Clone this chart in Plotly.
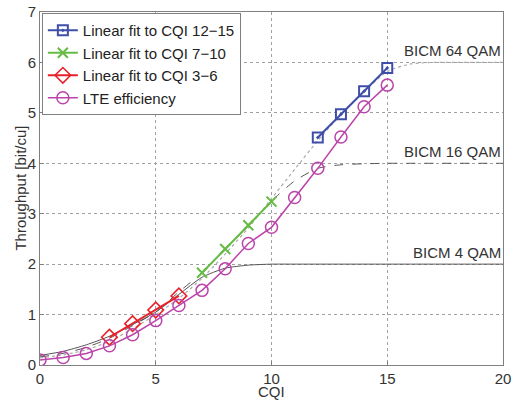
import plotly.graph_objects as go

cqi_all = list(range(0, 21))
bicm4 = [0.19, 0.27, 0.40, 0.57, 0.80, 1.05, 1.40, 1.74, 1.92, 1.98, 2.0,
         2.0, 2.0, 2.0, 2.0, 2.0, 2.0, 2.0, 2.0, 2.0, 2.0]
bicm16 = [0.16, 0.23, 0.35, 0.53, 0.78, 1.05, 1.45, 1.83, 2.29, 2.76, 3.25,
          3.65, 3.90, 3.97, 3.99, 4.0, 4.0, 4.0, 4.0, 4.0, 4.0]
bicm64 = [0.14, 0.20, 0.30, 0.47, 0.72, 1.00, 1.32, 1.72, 2.20, 2.72, 3.30,
          3.88, 4.45, 4.97, 5.42, 5.82, 5.97, 6.0, 6.0, 6.0, 6.0]

cqi_lte = list(range(0, 16))
lte_eff = [0.10, 0.15, 0.23, 0.38, 0.60, 0.88, 1.18, 1.48, 1.91, 2.41, 2.73,
           3.32, 3.90, 4.52, 5.12, 5.55]

cqi_fit1 = [3, 4, 5, 6]
fit1 = [0.55, 0.82, 1.09, 1.37]
cqi_fit2 = [7, 8, 9, 10]
fit2 = [1.83, 2.30, 2.77, 3.24]
cqi_fit3 = [12, 13, 14, 15]
fit3 = [4.51, 4.97, 5.43, 5.89]

labels = ["BICM 64 QAM", "BICM 16 QAM", "BICM 4 QAM"]
label_levels = [6, 4, 2]

FONT = "Liberation Sans, Arial, sans-serif"
TXT = "#333333"
fig = go.Figure()

fig.add_trace(go.Scatter(x=cqi_all, y=bicm4, mode="lines", showlegend=False,
                         line=dict(color="#555555", width=1, shape="spline", smoothing=0.6)))
fig.add_trace(go.Scatter(x=cqi_all, y=bicm16, mode="lines", showlegend=False,
                         line=dict(color="#555555", width=1, dash="dash", shape="spline", smoothing=0.6)))
fig.add_trace(go.Scatter(x=cqi_all, y=bicm64, mode="lines", showlegend=False,
                         line=dict(color="#aaaaaa", width=1.2, dash="dot", shape="spline", smoothing=0.6)))

fig.add_trace(go.Scatter(x=cqi_fit3, y=fit3, mode="lines+markers", name="Linear fit to CQI 12\u221215",
                         line=dict(color="#3f4fa8", width=2),
                         marker=dict(symbol="square-open-dot", size=10, color="#3f4fa8", line=dict(width=2))))
fig.add_trace(go.Scatter(x=cqi_fit2, y=fit2, mode="lines+markers", name="Linear fit to CQI 7\u221210",
                         line=dict(color="#66bb44", width=2),
                         marker=dict(symbol="x-thin", size=10, color="#66bb44", line=dict(width=2, color="#66bb44"))))
fig.add_trace(go.Scatter(x=cqi_fit1, y=fit1, mode="lines+markers", name="Linear fit to CQI 3\u22126",
                         line=dict(color="#e8202a", width=2),
                         marker=dict(symbol="diamond-open", size=12, color="#e8202a", line=dict(width=1.6))))
fig.add_trace(go.Scatter(x=cqi_lte, y=lte_eff, mode="lines+markers", name="LTE efficiency",
                         line=dict(color="#bb44aa", width=1.5),
                         marker=dict(symbol="circle-open", size=12, color="#bb44aa", line=dict(width=1.5))))

for t, lv in zip(labels, label_levels):
    fig.add_annotation(x=20, y=lv, xref="x", yref="y", text=t, showarrow=False,
                       xanchor="right", yanchor="bottom", yshift=1,
                       font=dict(family=FONT, size=15, color=TXT))

# axis titles placed as annotations (pixel-tuned positions)
fig.add_annotation(x=0.5, xref="paper", y=0, yref="paper", yshift=-17, text="CQI", showarrow=False,
                   xanchor="center", yanchor="top", borderpad=0,
                   font=dict(family=FONT, size=15, color=TXT))
fig.add_annotation(x=-0.043, xref="paper", y=0.5, yref="paper", text="Throughput [bit/cu]",
                   showarrow=False, textangle=-90, xanchor="center", yanchor="middle",
                   font=dict(family=FONT, size=15, color=TXT))

axis_common = dict(showline=True, linecolor="#808080", linewidth=1, mirror=True,
                   showgrid=True, gridcolor="#a0a0a0", griddash="dot", gridwidth=1,
                   zeroline=False, ticks="inside", ticklen=4, tickcolor="#808080",
                   automargin=False,
                   tickfont=dict(family=FONT, size=15, color=TXT))

fig.update_xaxes(range=[0, 20], tickvals=[0, 5, 10, 15, 20], **axis_common)
fig.update_yaxes(range=[0, 7], tickvals=list(range(0, 8)), **axis_common)

fig.update_layout(width=521, height=400, margin=dict(l=40, r=18, t=12, b=35),
                  plot_bgcolor="white", paper_bgcolor="white",
                  font=dict(family=FONT, size=15, color=TXT),
                  legend=dict(x=0.004, y=0.997, xanchor="left", yanchor="top",
                              bgcolor="white", bordercolor="#808080", borderwidth=1,
                              font=dict(family=FONT, size=15, color="#222222"),
                              tracegroupgap=0, itemwidth=30))

fig.write_html("out.html", post_script="document.body.style.margin='0';",
               config={"displayModeBar": False})
